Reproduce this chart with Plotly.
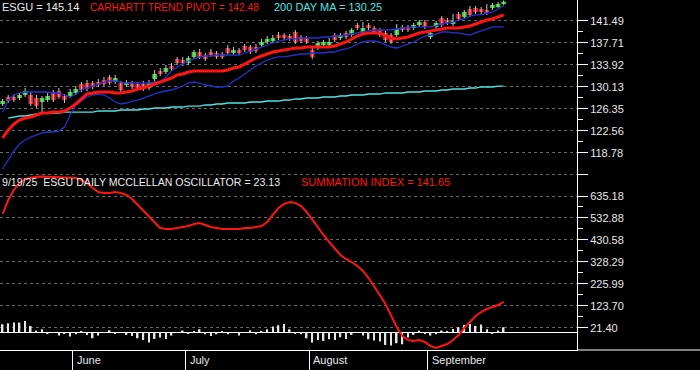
import plotly.graph_objects as go
import pandas as pd

# ---------------- data ----------------
holidays = ["2025-05-26", "2025-06-19", "2025-07-04", "2025-09-01"]
dates = [d for d in pd.bdate_range("2025-05-13", "2025-09-19")
         if d.strftime("%Y-%m-%d") not in holidays]

opens = [
    127.19, 128.39, 128.39, 128.22, 128.73, 128.73, 128.22, 127.53, 127.87, 129.25,
    129.42, 128.56, 128.56, 129.08, 130.62, 130.79, 130.79, 130.96, 131.31, 131.82,
    130.96, 130.79, 130.45, 130.79, 130.62, 130.62, 129.93, 131.48, 132.85, 132.68,
    133.71, 134.91, 134.74, 134.23, 135.26, 136.11, 135.60, 136.11, 135.94, 135.77,
    136.80, 135.94, 136.46, 137.14, 136.97, 136.97, 137.32, 137.83, 138.00, 139.03,
    139.03, 138.86, 139.55, 138.69, 138.52, 136.46, 136.80, 137.32, 137.32, 139.03,
    138.52, 139.38, 139.03, 140.75, 139.55, 140.75, 140.23, 139.89, 139.38, 139.03,
    139.03, 140.41, 140.41, 140.23, 140.75, 141.26, 138.69, 140.41, 141.95, 141.61,
    140.92, 142.64, 142.12, 143.49, 143.67, 143.49, 143.32, 143.67, 143.84, 144.35]
closes = [
    127.70, 127.70, 127.87, 128.73, 129.42, 127.19, 126.84, 128.22, 128.56, 127.87,
    128.39, 127.87, 129.25, 129.76, 129.59, 129.76, 130.11, 130.45, 130.62, 130.79,
    131.65, 129.59, 130.96, 130.11, 129.93, 129.93, 130.79, 132.34, 132.34, 133.37,
    133.20, 134.23, 134.23, 135.08, 136.11, 135.26, 134.91, 135.60, 135.26, 135.26,
    135.94, 136.46, 135.94, 136.46, 136.11, 136.29, 137.83, 138.35, 138.52, 138.52,
    138.52, 138.35, 137.83, 138.00, 137.83, 135.26, 137.66, 137.83, 137.83, 138.17,
    139.03, 138.69, 139.89, 140.23, 140.23, 140.23, 139.55, 139.03, 138.17, 137.83,
    140.06, 139.89, 139.89, 140.75, 141.26, 140.41, 139.38, 141.09, 140.75, 141.09,
    141.44, 141.78, 142.98, 142.47, 142.98, 142.98, 142.81, 144.18, 144.35, 144.75]
highs = [
    128.05, 128.73, 128.90, 129.08, 129.93, 129.25, 128.73, 128.56, 129.08, 129.59,
    129.93, 128.90, 129.76, 130.28, 130.96, 131.31, 131.14, 131.48, 131.82, 132.17,
    132.17, 131.14, 131.31, 131.14, 130.96, 131.14, 131.31, 133.02, 133.37, 133.88,
    134.23, 135.26, 135.26, 135.43, 136.46, 136.63, 135.94, 136.63, 136.29, 136.11,
    137.32, 136.97, 136.80, 137.49, 137.32, 137.49, 138.35, 138.86, 139.03, 139.55,
    139.38, 139.20, 139.89, 139.03, 138.86, 136.80, 138.00, 138.17, 138.52, 139.38,
    139.38, 139.72, 140.23, 141.09, 141.26, 141.09, 140.58, 140.23, 139.72, 139.38,
    140.92, 140.75, 140.75, 141.09, 141.61, 141.61, 139.72, 141.44, 142.29, 141.95,
    142.64, 142.98, 143.32, 144.01, 144.01, 143.84, 144.35, 144.52, 144.70, 144.95]
lows = [
    126.84, 127.36, 127.53, 127.87, 128.39, 126.84, 126.50, 125.81, 127.53, 127.53,
    128.05, 127.36, 128.22, 128.73, 129.25, 129.42, 129.76, 130.11, 130.28, 130.45,
    130.62, 129.25, 130.11, 129.76, 129.59, 129.42, 129.59, 130.96, 131.99, 132.34,
    132.85, 133.88, 133.71, 133.88, 134.91, 134.91, 134.57, 135.26, 134.91, 134.91,
    135.60, 135.60, 135.60, 136.11, 135.77, 135.94, 136.97, 137.49, 137.66, 138.17,
    138.17, 138.00, 137.49, 137.66, 137.49, 134.91, 136.46, 136.97, 136.97, 137.83,
    138.17, 138.35, 138.69, 139.89, 139.20, 139.89, 139.20, 138.69, 137.83, 137.49,
    138.69, 139.55, 139.55, 139.89, 140.41, 140.06, 138.35, 140.06, 140.41, 140.75,
    140.58, 141.44, 141.78, 142.12, 142.64, 142.47, 142.47, 143.32, 143.67, 144.10]

pivot = [
    121.35, 122.72, 123.75, 124.44, 124.78, 124.96, 125.30, 125.64, 125.64, 125.81,
    125.81, 125.99, 126.50, 127.19, 128.05, 128.90, 129.08, 129.25, 129.25, 129.25,
    129.08, 129.08, 129.25, 129.42, 129.76, 129.93, 130.28, 130.62, 130.96, 131.31,
    131.65, 132.17, 132.34, 132.68, 132.85, 132.85, 132.85, 132.85, 132.85, 132.85,
    133.02, 133.37, 133.54, 134.05, 134.57, 135.08, 135.43, 135.77, 136.11, 136.29,
    136.46, 136.63, 136.80, 136.80, 136.97, 136.97, 136.97, 136.97, 136.97, 137.14,
    137.49, 137.83, 138.35, 138.86, 139.20, 139.38, 139.38, 139.38, 138.86, 138.52,
    138.35, 138.52, 138.69, 139.03, 139.38, 139.55, 139.72, 139.89, 140.06, 140.23,
    140.23, 140.23, 140.41, 140.58, 140.92, 141.26, 141.61, 141.78, 142.12, 142.48]
lower_band = [
    116.03, 117.57, 119.12, 120.32, 121.01, 121.52, 121.87, 122.21, 122.38, 122.38,
    122.55, 123.24, 125.30, 127.02, 127.70, 128.39, 128.73, 128.90, 128.73, 128.22,
    127.53, 127.19, 127.36, 127.70, 127.87, 128.22, 128.56, 128.90, 129.25, 129.42,
    129.59, 129.93, 130.28, 130.79, 130.96, 130.79, 130.45, 130.28, 130.11, 130.11,
    130.28, 131.14, 131.65, 132.34, 133.02, 133.71, 134.23, 134.74, 135.08, 135.26,
    135.26, 135.43, 135.60, 135.77, 135.77, 135.94, 135.94, 135.94, 136.11, 136.11,
    136.46, 136.63, 136.97, 137.49, 137.83, 138.00, 138.00, 137.83, 137.32, 136.97,
    136.80, 137.14, 137.49, 137.83, 138.35, 138.86, 139.03, 139.20, 139.55, 139.55,
    139.38, 139.38, 139.20, 139.03, 139.38, 139.72, 140.06, 140.41, 140.41, 140.41]
upper_band = [
    125.81, 127.87, 128.73, 129.08, 129.25, 129.25, 129.25, 129.25, 129.25, 129.08,
    129.08, 128.73, 128.39, 128.90, 129.59, 129.93, 130.28, 130.62, 130.96, 131.14,
    131.14, 130.96, 130.79, 130.79, 130.79, 130.79, 130.79, 130.96, 130.96, 131.82,
    132.85, 133.54, 134.05, 134.57, 134.91, 135.26, 135.43, 135.43, 135.60, 135.60,
    135.60, 135.60, 135.60, 135.94, 136.29, 136.63, 136.97, 137.32, 137.66, 138.00,
    138.17, 138.35, 138.35, 138.52, 138.52, 138.52, 138.52, 138.69, 138.69, 138.86,
    138.86, 139.03, 139.20, 139.38, 139.55, 139.72, 139.89, 139.89, 139.89, 139.89,
    140.06, 140.23, 140.23, 140.41, 140.41, 140.41, 140.41, 140.58, 140.92, 141.09,
    141.26, 141.61, 141.78, 142.29, 142.47, 142.47, 142.81, 142.98, 143.49, 144.01]
ma200 = [
    None, 124.78, 124.96, 125.13, 125.13, 125.30, 125.47, 125.64, 125.64, 125.64,
    125.64, 125.81, 125.81, 125.81, 125.81, 125.81, 125.81, 125.99, 125.99, 125.99,
    125.99, 126.16, 126.16, 126.16, 126.16, 126.33, 126.33, 126.50, 126.50, 126.50,
    126.67, 126.67, 126.67, 126.84, 126.84, 126.84, 127.02, 127.02, 127.19, 127.19,
    127.36, 127.36, 127.36, 127.36, 127.53, 127.53, 127.53, 127.70, 127.70, 127.70,
    127.87, 127.87, 128.05, 128.05, 128.22, 128.22, 128.22, 128.39, 128.39, 128.39,
    128.56, 128.56, 128.73, 128.73, 128.73, 128.90, 128.90, 128.90, 129.08, 129.08,
    129.08, 129.08, 129.25, 129.25, 129.25, 129.42, 129.42, 129.42, 129.59, 129.59,
    129.76, 129.76, 129.76, 129.93, 129.93, 130.11, 130.11, 130.11, 130.25, 130.25]

summation = [
    551.3, 616.5, 663.2, 695.8, 714.4, 721.0, 725.0, 726.0, 725.0, 724.0,
    724.0, 723.0, 722.0, 719.0, 709.0, 695.8, 672.5, 653.8, 649.2, 649.2,
    653.8, 649.2, 639.9, 621.2, 593.2, 565.3, 537.3, 509.3, 486.0, 481.4,
    481.4, 486.0, 490.7, 495.3, 504.7, 509.3, 500.0, 490.7, 486.0, 481.4,
    481.4, 481.4, 481.4, 486.0, 486.0, 490.7, 495.3, 514.0, 546.6, 579.3,
    597.9, 607.2, 602.6, 588.6, 560.6, 523.3, 490.7, 453.4, 420.8, 388.1,
    360.2, 341.5, 327.5, 308.9, 285.6, 252.9, 215.6, 173.7, 131.7, 80.5,
    24.5, -17.4, -36.1, -40.7, -36.1, -45.4, -64.0, -73.4, -64.0, -54.7,
    -36.1, -12.8, 19.9, 47.8, 75.8, 94.4, 108.4, 117.8, 127.1, 141.65]
oscillator = [
    37.3, 41.9, 45.2, 45.2, 52.7, 29.4, 7.9, 14.0, -6.1, -3.3,
    -15.4, -4.7, -20.0, -9.3, 6.1, -12.6, -28.0, -15.4, -1.5, 9.3,
    -7.9, 1.2, -12.6, -17.2, -28.0, -35.9, -48.0, -31.2, -24.7, -31.2,
    -15.4, -2.0, 7.9, -4.7, 6.1, 14.0, -9.3, -17.2, -9.3, 3.3,
    -9.3, 1.0, -15.4, -1.0, 9.3, -9.3, 6.1, 14.0, 26.6, 32.6,
    38.7, 14.0, -6.1, -9.3, -28.0, -48.0, -35.9, -40.6, -32.6, -35.9,
    -23.3, -31.2, -12.6, -1.5, -15.4, -32.6, -38.7, -43.4, -59.2, -62.0,
    -51.3, -55.9, -24.7, -12.6, 7.9, -7.9, -15.4, -9.3, 7.9, 6.1,
    15.4, 23.3, 34.0, 38.7, 29.4, 35.9, 14.0, -6.1, 7.9, 23.13]

price_ticks = [141.49, 137.71, 133.92, 130.13, 126.35, 122.56, 118.78]
summ_ticks = [635.18, 532.88, 430.58, 328.29, 225.99, 123.70, 21.40]
summ_extra_tick = 737.47

symbol = "ESGU"
last_price = 145.14
last_pivot = 142.48
last_ma = 130.25
last_osc = 23.13
last_summ = 141.65
date_label = "9/19/25"

# ---------------- figure ----------------
FONT = "Arial, Liberation Sans, sans-serif"
GREEN = "#2fd22f"
RED_C = "#d81e2c"
RED_L = "#ff1414"
BLUE = "#2233cc"
CYAN = "#4fe3e3"

x = list(range(len(dates)))
fig = go.Figure()

# oscillator bars (summation axis)
fig.add_trace(go.Bar(x=x, y=oscillator, width=0.28, marker_color="#e6e6e6",
                     marker_line_width=0, yaxis="y2", showlegend=False))
# summation line
fig.add_trace(go.Scatter(x=x, y=summation, mode="lines", yaxis="y2",
                         line=dict(color=RED_L, width=2), showlegend=False))

# candle bodies
body_base = [min(o, c) for o, c in zip(opens, closes)]
body_h = [abs(c - o) for o, c in zip(opens, closes)]
body_col = [GREEN if c >= o else RED_C for o, c in zip(opens, closes)]
fig.add_trace(go.Bar(x=x, y=body_h, base=body_base, width=0.85,
                     marker_color=body_col, marker_line_width=0,
                     yaxis="y", showlegend=False))
# wicks
wx, wy = [], []
for i, (h, l) in enumerate(zip(highs, lows)):
    wx += [i, i, None]
    wy += [l, h, None]
fig.add_trace(go.Scatter(x=wx, y=wy, mode="lines", yaxis="y",
                         line=dict(color="#c8c8c8", width=1), showlegend=False))

fig.add_trace(go.Scatter(x=x, y=ma200, mode="lines", yaxis="y",
                         line=dict(color=CYAN, width=1.3), showlegend=False))
fig.add_trace(go.Scatter(x=x, y=lower_band, mode="lines", yaxis="y",
                         line=dict(color=BLUE, width=1.3), showlegend=False))
fig.add_trace(go.Scatter(x=x, y=upper_band, mode="lines", yaxis="y",
                         line=dict(color=BLUE, width=1.3), showlegend=False))
fig.add_trace(go.Scatter(x=x, y=pivot, mode="lines", yaxis="y",
                         line=dict(color=RED_L, width=3), showlegend=False))

# month boundaries
bounds, months = [], []
for i in range(1, len(dates)):
    if dates[i].month != dates[i - 1].month:
        bounds.append(i - 0.5)
        months.append(dates[i].strftime("%B"))

def mids(v):
    return [(a + b) / 2 for a, b in zip(v[:-1], v[1:])]

tickfont = dict(family=FONT, size=11, color="#e8e8e8")
grid = dict(showgrid=True, gridcolor="#6a6a6a", griddash="3px,3px", gridwidth=1)

annotations = []
for b, m in zip(bounds, months):
    annotations.append(dict(x=b, xref="x", y=0, yref="paper", yshift=-10,
                            xanchor="left", yanchor="middle", xshift=2,
                            text=m, showarrow=False, font=tickfont))

def txt(px, py, s, col, size=11):
    annotations.append(dict(x=px / 577, y=1 - py / 350, xref="paper", yref="paper",
                            xanchor="left", yanchor="middle", text=s, showarrow=False,
                            font=dict(family=FONT, size=size, color=col)))

txt(0, 7, f"{symbol} = {last_price:.2f}", "#ececec")
txt(88, 7, f"CARHARTT TREND PIVOT = {last_pivot:.2f}", RED_L, 10.2)
txt(272, 7, f"200 DAY MA = {last_ma:.2f}", CYAN)
txt(0, 182, f"{date_label}\u00a0 {symbol} DAILY MCCLELLAN OSCILLATOR = {last_osc:.2f}", "#ececec", 10.6)
txt(299, 182, f"SUMMATION INDEX = {last_summ:.2f}", RED_L)

fig.update_layout(
    width=700, height=370,
    margin=dict(l=0, r=123, t=0, b=20, pad=0),
    paper_bgcolor="black", plot_bgcolor="black",
    barmode="overlay", showlegend=False,
    xaxis=dict(range=[-0.462, 102.02], showgrid=False, zeroline=False,
               showline=True, linecolor="white", linewidth=1,
               tickvals=bounds, ticks="outside", ticklen=20, tickcolor="white",
               tickwidth=1, showticklabels=False, automargin=False),
    yaxis=dict(range=[84.96, 145.04], side="right", anchor="x", automargin=False,
               tickvals=price_ticks, ticktext=[f"{v:.2f}" for v in price_ticks],
               ticks="outside", ticklen=10, tickcolor="white", tickwidth=1,
               showline=True, linecolor="white", linewidth=1, zeroline=False,
               tickfont=tickfont,
               minor=dict(tickvals=mids(price_ticks), ticks="outside", ticklen=5,
                          tickcolor="white", showgrid=False),
               **grid),
    yaxis2=dict(range=[-82.7, 1548.9], side="right", overlaying="y", anchor="x",
                automargin=False,
                tickvals=[summ_extra_tick] + summ_ticks,
                ticktext=[""] + [f"{v:.2f}" for v in summ_ticks],
                ticks="outside", ticklen=10, tickcolor="white", tickwidth=1,
                showline=True, linecolor="white", linewidth=1,
                zeroline=True, zerolinecolor="white", zerolinewidth=1,
                tickfont=tickfont,
                minor=dict(tickvals=mids(summ_ticks), ticks="outside", ticklen=5,
                           tickcolor="white", showgrid=False),
                **grid),
    annotations=annotations,
    shapes=[dict(type="line", xref="paper", yref="paper", x0=1, x1=700 / 577,
                 y0=0, y1=0, line=dict(color="white", width=1))],
)

fig.write_html("out.html",
               config={"displayModeBar": False},
               post_script="document.body.style.margin='0';"
                           "document.body.style.overflow='hidden';"
                           "document.body.style.background='black';")
